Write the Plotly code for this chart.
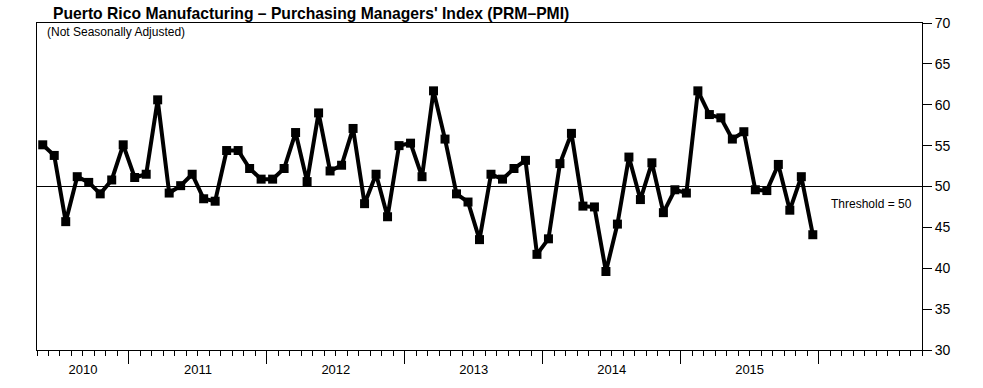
import plotly.graph_objects as go

# Monthly PRM-PMI, May 2010 - Dec 2015
pmi = [55.1, 53.8, 45.7, 51.2, 50.5, 49.1, 50.8, 55.1,
       51.1, 51.5, 60.6, 49.2, 50.1, 51.5, 48.5, 48.2, 54.4, 54.4, 52.2, 50.9,
       50.9, 52.2, 56.6, 50.6, 59.0, 51.9, 52.6, 57.1, 47.9, 51.5, 46.3, 55.0,
       55.3, 51.2, 61.7, 55.8, 49.1, 48.1, 43.5, 51.5, 50.9, 52.2, 53.2, 41.7,
       43.6, 52.8, 56.5, 47.6, 47.5, 39.6, 45.4, 53.6, 48.4, 52.9, 46.8, 49.6,
       49.2, 61.7, 58.8, 58.4, 55.8, 56.7, 49.6, 49.5, 52.7, 47.1, 51.2, 44.1]
years = ["2010", "2011", "2012", "2013", "2014", "2015"]
year_months = [8, 12, 12, 12, 12, 12]   # months of each year shown (from May 2010)
total_months = 77                      # axis span in months (May 2010 - Sep 2016)
threshold = 50
y_ticks = [30, 35, 40, 45, 50, 55, 60, 65, 70]

# month index positions (centered in each month)
x = [i + 0.5 for i in range(len(pmi))]
bounds = []
centers = []
acc = 0
for m in year_months:
    centers.append(acc + m / 2)
    acc += m
    bounds.append(acc)

font = "Liberation Sans, Arial, Helvetica, sans-serif"

fig = go.Figure()
fig.add_trace(go.Scatter(
    x=x, y=pmi, mode="lines+markers",
    line=dict(color="black", width=4),
    marker=dict(symbol="square", size=9, color="black"),
    hoverinfo="x+y", showlegend=False))
# invisible helper trace for label axis
fig.add_trace(go.Scatter(x=[0, total_months], y=[threshold, threshold], xaxis="x2",
                         mode="lines", line=dict(width=0), opacity=0,
                         hoverinfo="skip", showlegend=False))

fig.add_hline(y=threshold, line=dict(color="black", width=1))

fig.update_layout(
    width=983, height=388,
    margin=dict(l=37, r=61, t=23, b=38, autoexpand=False),
    paper_bgcolor="white", plot_bgcolor="white",
    font=dict(family=font, color="black", size=12),
    xaxis=dict(
        range=[0, total_months], showgrid=False, zeroline=False,
        showline=True, mirror=True, linecolor="black", linewidth=1,
        tickmode="array", tickvals=bounds, showticklabels=False,
        ticks="outside", ticklen=13, tickcolor="black", tickwidth=1,
        minor=dict(tickmode="array", tickvals=list(range(0, total_months + 1)),
                   ticks="outside", ticklen=5, tickcolor="black", tickwidth=1,
                   showgrid=False),
    ),
    xaxis2=dict(
        range=[0, total_months], overlaying="x", anchor="y", side="bottom",
        showgrid=False, zeroline=False, showline=False,
        tickmode="array", tickvals=centers, ticktext=years,
        ticks="", ticklabelstandoff=10, tickfont=dict(size=13),
    ),
    yaxis=dict(
        range=[30, 70], side="right", showgrid=False, zeroline=False,
        showline=True, mirror=True, linecolor="black", linewidth=1,
        tickmode="array", tickvals=y_ticks,
        ticks="outside", ticklen=9, tickcolor="black",
        tickfont=dict(size=14),
    ),
    annotations=[
        dict(text="<b>Puerto Rico Manufacturing \u2013 Purchasing Managers' Index (PRM\u2013PMI)</b>",
             xref="paper", yref="paper", x=0.0163, y=1, xanchor="left", yanchor="bottom",
             showarrow=False, font=dict(size=15.7), yshift=-1),
        dict(text="(Not Seasonally Adjusted)",
             xref="paper", yref="paper", x=0.0087, y=1, xanchor="left", yanchor="top",
             showarrow=False, font=dict(size=12)),
        dict(text="Threshold = 50", xref="x", yref="y", x=72.6, y=47.8,
             xanchor="center", yanchor="middle", showarrow=False, font=dict(size=12)),
    ],
)

fig.write_html("out.html", config={"displayModeBar": False},
               post_script="document.body.style.margin='0';")
